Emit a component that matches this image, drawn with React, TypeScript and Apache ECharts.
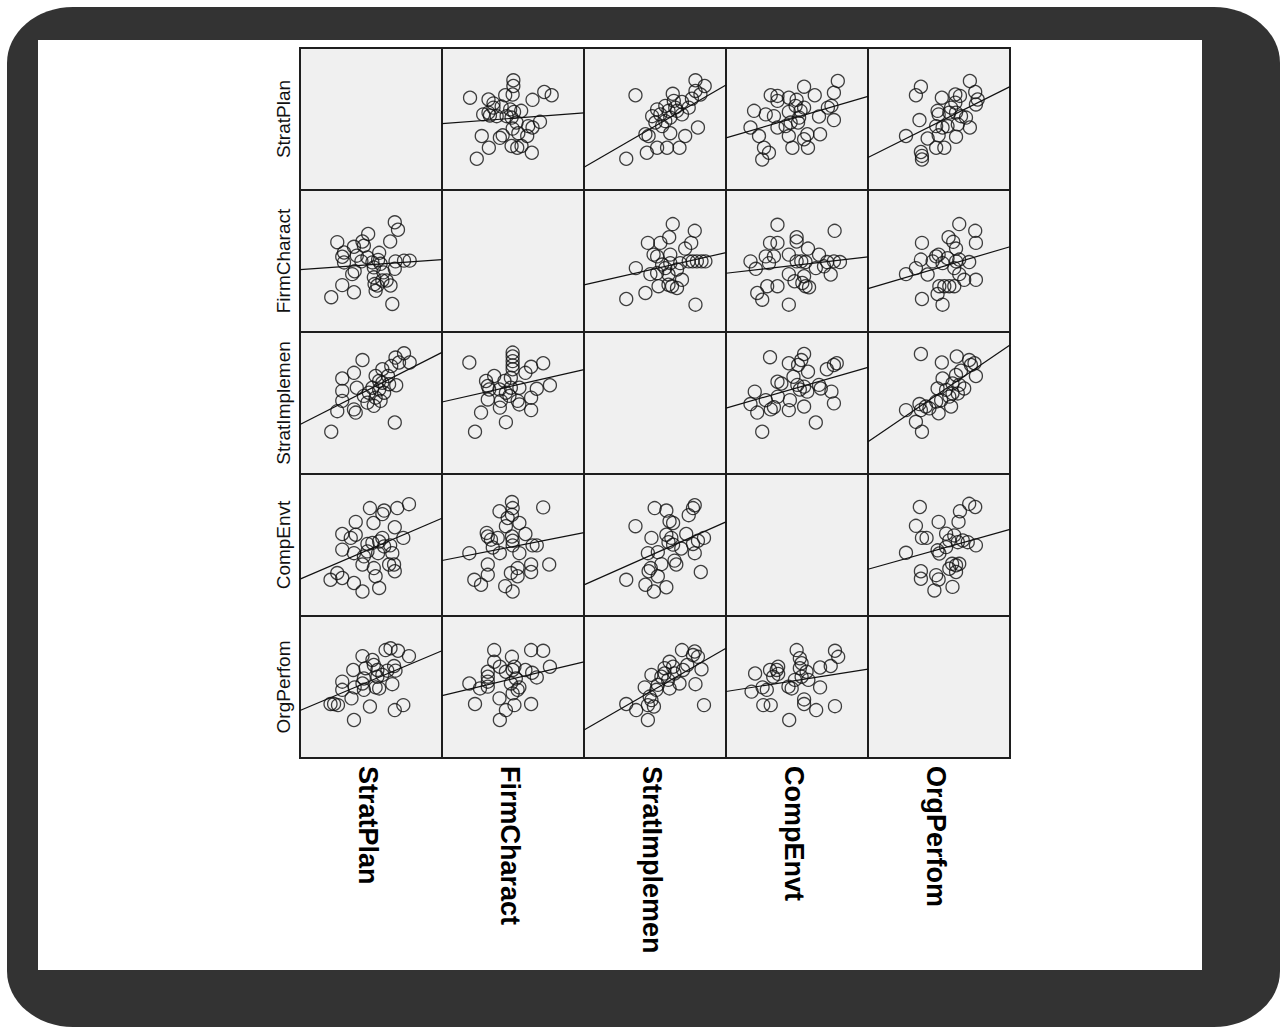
import React, { useEffect, useRef } from "react";
import * as echarts from "echarts";

// Variables of the scatter-plot matrix (row order = column order)
const variables = ["StratPlan", "FirmCharact", "StratImplemen", "CompEnvt", "OrgPerfom"];
const scaleMin = 1;
const scaleMax = 5;

// Upper-triangle cells: each point is [column variable, row variable]
const stratPlanVsFirmCharact = [
  [1.79, 3.6], [3.01, 4.09], [3.01, 3.93], [2.99, 3.69], [2.78, 3.67], [2.31, 3.55], [2.45, 3.44],
  [3.55, 3.54], [3.88, 3.76], [4.09, 3.67], [2.31, 3.18], [2.35, 3.1], [2.54, 3.08], [2.68, 3.35],
  [2.92, 3.27], [3.03, 3.2], [3.23, 3.23], [2.96, 3.04], [2.82, 3.08], [3.76, 2.92], [3.55, 2.76],
  [3.43, 2.8], [2.12, 2.52], [2.32, 2.19], [1.98, 1.88], [2.63, 2.47], [2.71, 2.54], [2.99, 2.73],
  [3.15, 2.6], [3.4, 2.52], [2.96, 2.24], [3.12, 2.19], [3.24, 2.24], [3.53, 2.05], [3.1, 2.9],
  [2.45, 3.32], [2.16, 3.13],
];
const stratPlanVsStratImplemen = [
  [2.45, 3.67], [4.14, 4.09], [4.4, 3.93], [3.5, 3.71], [4.14, 3.79], [4.28, 3.69], [4.04, 3.57],
  [3.76, 3.48], [3.53, 3.51], [3.29, 3.37], [3.06, 3.27], [2.92, 3.08], [3.15, 3.13], [3.38, 3.23],
  [3.62, 3.23], [3.95, 3.32], [3.01, 2.9], [3.29, 2.94], [3.43, 3.04], [3.76, 3.13], [2.73, 2.57],
  [2.82, 2.52], [3.43, 2.6], [3.85, 2.52], [4.21, 2.76], [2.77, 2.05], [3.06, 2.19], [3.34, 2.19],
  [3.69, 2.19], [2.19, 1.88], [3.2, 2.8], [3.57, 3.32],
];
const stratPlanVsCompEnvt = [
  [4.15, 4.07], [3.2, 3.91], [4.04, 3.74], [3.5, 3.67], [2.26, 3.67], [2.45, 3.65], [2.45, 3.51],
  [2.77, 3.6], [2.99, 3.54], [1.79, 3.23], [2.12, 3.13], [2.35, 3.08], [2.77, 3.2], [3.1, 3.23],
  [3.2, 3.32], [2.96, 3.37], [3.62, 3.07], [3.87, 3.32], [3.97, 3.37], [4.04, 2.97], [1.69, 2.76],
  [1.93, 2.52], [2.45, 2.76], [2.82, 2.9], [3.03, 2.9], [2.77, 2.52], [3.29, 2.57], [3.65, 2.57],
  [3.2, 2.43], [2.07, 2.19], [2.21, 2.05], [2.02, 1.86], [2.87, 2.19], [3.31, 2.19], [3.06, 3.04],
  [2.68, 2.8],
];
const stratPlanVsOrgPerfom = [
  [3.87, 4.07], [2.49, 3.91], [2.35, 3.67], [3.08, 3.6], [4.02, 3.76], [3.46, 3.69], [3.59, 3.65],
  [4.09, 3.55], [4.04, 3.41], [3.46, 3.46], [3.34, 3.32], [2.96, 3.23], [2.99, 3.13], [3.29, 3.18],
  [3.48, 3.18], [3.62, 3.08], [2.45, 2.97], [2.92, 2.8], [3.24, 2.8], [3.53, 2.85], [3.87, 2.76],
  [2.07, 2.52], [2.68, 2.45], [2.99, 2.54], [3.48, 2.5], [2.92, 2.19], [3.15, 2.19], [2.49, 2.07],
  [2.52, 1.96], [2.52, 1.86], [3.1, 2.76], [3.76, 3.04],
];
const firmCharactVsStratImplemen = [
  [3.5, 4.04], [4.12, 3.85], [3.4, 3.67], [4.02, 3.51], [2.8, 3.51], [3.15, 3.51], [3.85, 3.35],
  [2.96, 3.18], [3.06, 3.13], [3.43, 3.18], [2.46, 2.8], [3.2, 2.9], [3.43, 2.94], [3.71, 2.94],
  [3.95, 2.99], [4.06, 2.99], [4.18, 2.99], [4.31, 2.99], [4.42, 2.99], [2.87, 2.63], [3.06, 2.66],
  [3.38, 2.62], [3.76, 2.47], [3.1, 2.29], [3.38, 2.33], [3.48, 2.29], [3.62, 2.24], [2.73, 2.1],
  [2.19, 1.93], [4.14, 1.77], [3.29, 2.8], [3.62, 2.76],
];
const firmCharactVsCompEnvt = [
  [2.45, 4.02], [4.06, 3.85], [2.99, 3.67], [2.99, 3.55], [2.24, 3.51], [2.45, 3.51], [2.12, 3.13],
  [2.35, 3.13], [2.77, 3.18], [3.31, 3.35], [3.62, 3.18], [1.69, 2.99], [1.84, 2.78], [2.21, 2.94],
  [2.99, 2.99], [3.12, 2.99], [3.24, 2.97], [3.85, 2.97], [4.04, 2.99], [4.21, 2.97], [3.53, 2.8],
  [3.76, 2.85], [2.77, 2.63], [3.2, 2.57], [3.95, 2.62], [2.93, 2.43], [3.15, 2.38], [3.24, 2.29],
  [3.34, 2.26], [2.16, 2.29], [2.45, 2.29], [1.88, 2.1], [2.02, 1.91], [2.77, 1.77],
];
const firmCharactVsOrgPerfom = [
  [3.57, 4.04], [4.02, 3.85], [4.04, 3.51], [3.27, 3.67], [3.4, 3.54], [3.48, 3.35], [2.52, 3.51],
  [2.49, 3.04], [2.92, 3.13], [2.99, 3.18], [3.24, 3.08], [3.48, 2.99], [3.57, 3.04], [3.85, 2.97],
  [2.07, 2.63], [2.35, 2.8], [2.68, 2.62], [3.1, 2.94], [3.43, 2.8], [3.57, 2.63], [3.71, 2.47],
  [4.04, 2.47], [3.01, 2.29], [3.15, 2.29], [3.29, 2.29], [3.43, 2.29], [2.96, 2.07], [2.52, 1.93],
  [3.1, 1.77], [2.82, 2.99],
];
const stratImplemenVsCompEnvt = [
  [2.24, 4.29], [3.2, 4.38], [3.12, 4.21], [2.77, 4.12], [3.03, 4.07], [4.12, 4.12], [4.04, 4.07],
  [3.31, 3.88], [3.84, 3.95], [2.9, 3.74], [2.45, 3.6], [3.01, 3.51], [3.2, 3.46], [3.62, 3.51],
  [3.67, 3.41], [1.81, 3.32], [2.12, 3.08], [2.46, 3.18], [2.8, 3.08], [3.29, 3.32], [3.08, 3.38],
  [3.97, 3.32], [1.69, 2.97], [1.88, 2.73], [2.26, 2.82], [2.35, 2.88], [2.77, 2.8], [3.2, 2.9],
  [4.04, 2.99], [3.53, 2.45], [2.02, 2.19], [2.56, 3.55],
];
const stratImplemenVsOrgPerfom = [
  [2.49, 4.38], [3.08, 4.14], [3.5, 4.31], [3.85, 4.21], [4.0, 4.12], [4.04, 3.76], [3.62, 3.91],
  [3.48, 3.79], [3.1, 3.69], [3.38, 3.55], [3.57, 3.51], [3.71, 3.41], [2.96, 3.41], [3.2, 3.37],
  [3.38, 3.27], [3.06, 3.08], [2.92, 3.04], [2.63, 2.9], [2.45, 2.97], [2.49, 2.8], [2.07, 2.8],
  [2.73, 2.85], [2.99, 2.71], [3.34, 2.9], [2.35, 2.47], [2.52, 2.19], [3.29, 3.18], [3.53, 3.27],
  [3.9, 4.07],
];
const compEnvtVsOrgPerfom = [
  [2.46, 4.07], [3.85, 4.16], [4.02, 4.07], [3.59, 3.95], [3.55, 3.65], [2.35, 3.54], [2.99, 3.65],
  [2.52, 3.2], [2.65, 3.2], [3.2, 3.32], [3.43, 3.27], [3.29, 3.13], [3.53, 3.08], [3.67, 3.13],
  [3.81, 3.08], [4.04, 2.99], [2.07, 2.78], [2.96, 2.85], [3.01, 2.76], [3.2, 2.94], [3.37, 2.47],
  [3.48, 2.43], [3.57, 2.47], [3.29, 2.33], [3.48, 2.24], [2.49, 2.26], [2.49, 2.05], [2.92, 2.15],
  [2.99, 2.03], [2.87, 1.72], [3.38, 1.82],
];

const upperCells: Record<string, number[][]> = {
  "0-1": stratPlanVsFirmCharact,
  "0-2": stratPlanVsStratImplemen,
  "0-3": stratPlanVsCompEnvt,
  "0-4": stratPlanVsOrgPerfom,
  "1-2": firmCharactVsStratImplemen,
  "1-3": firmCharactVsCompEnvt,
  "1-4": firmCharactVsOrgPerfom,
  "2-3": stratImplemenVsCompEnvt,
  "2-4": stratImplemenVsOrgPerfom,
  "3-4": compEnvtVsOrgPerfom,
};

function leastSquares(points: number[][]) {
  const n = points.length;
  let sx = 0, sy = 0, sxx = 0, sxy = 0;
  for (const [x, y] of points) {
    sx += x; sy += y; sxx += x * x; sxy += x * y;
  }
  const b = (n * sxy - sx * sy) / (n * sxx - sx * sx);
  const a = (sy - b * sx) / n;
  return { a, b };
}

export default function App() {
  const ref = useRef<HTMLDivElement>(null);

  useEffect(() => {
    if (!ref.current) return;
    const chart = echarts.init(ref.current, null, { renderer: "svg" });
    const cell = 142;
    const left0 = 300;
    const top0 = 48;
    const n = variables.length;
    const grids: any[] = [];
    const xAxes: any[] = [];
    const yAxes: any[] = [];
    const series: any[] = [];
    const graphics: any[] = [];

    for (let r = 0; r < n; r++) {
      for (let c = 0; c < n; c++) {
        const idx = r * n + c;
        grids.push({
          left: left0 + c * cell,
          top: top0 + r * cell,
          width: cell,
          height: cell,
          show: true,
          backgroundColor: "#f0f0f0",
          borderColor: "#1e1e1e",
          borderWidth: 2,
        });
        xAxes.push({ gridIndex: idx, type: "value", min: scaleMin, max: scaleMax, show: false });
        yAxes.push({ gridIndex: idx, type: "value", min: scaleMin, max: scaleMax, show: false });
        if (r === c) continue;
        const pts =
          r < c
            ? upperCells[`${r}-${c}`]
            : upperCells[`${c}-${r}`].map(([x, y]) => [y, x]);
        series.push({
          type: "scatter",
          xAxisIndex: idx,
          yAxisIndex: idx,
          data: pts,
          symbol: "circle",
          symbolSize: 13,
          silent: true,
          itemStyle: { color: "rgba(0,0,0,0)", borderColor: "#111", borderWidth: 1.3 },
        });
        const { a, b } = leastSquares(pts);
        series.push({
          type: "line",
          xAxisIndex: idx,
          yAxisIndex: idx,
          data: [
            [scaleMin, a + b * scaleMin],
            [scaleMax, a + b * scaleMax],
          ],
          symbol: "none",
          silent: true,
          clip: true,
          lineStyle: { color: "#111", width: 1.2 },
        });
      }
    }

    variables.forEach((name, i) => {
      graphics.push({
        type: "text",
        x: 283,
        y: top0 + i * cell + cell / 2,
        rotation: Math.PI / 2,
        style: {
          text: name,
          font: '19px "Liberation Sans", Arial, sans-serif',
          fill: "#111",
          align: "center",
          verticalAlign: "middle",
          textAlign: "center",
          textVerticalAlign: "middle",
        },
      });
      graphics.push({
        type: "text",
        x: left0 + i * cell + cell / 2 - 3,
        y: 766,
        rotation: -Math.PI / 2,
        style: {
          text: name,
          font: 'bold 27px "Liberation Sans", Arial, sans-serif',
          fill: "#000",
          align: "left",
          verticalAlign: "middle",
          textAlign: "left",
          textVerticalAlign: "middle",
        },
      });
    });

    chart.setOption({
      animation: false,
      grid: grids,
      xAxis: xAxes,
      yAxis: yAxes,
      series,
      graphic: { elements: graphics },
    });
    return () => chart.dispose();
  }, []);

  return (
    <div style={{ position: "absolute", left: 0, top: 0, width: 1287, height: 1034, background: "#fff", overflow: "hidden" }}>
      <div style={{ position: "absolute", left: 7, top: 7, width: 1273, height: 1020, background: "#333333", borderRadius: "66px / 56px" }} />
      <div style={{ position: "absolute", left: 38, top: 40, width: 1164, height: 930, background: "#ffffff" }} />
      <div ref={ref} style={{ position: "absolute", left: 0, top: 0, width: 1287, height: 1034 }} />
    </div>
  );
}
